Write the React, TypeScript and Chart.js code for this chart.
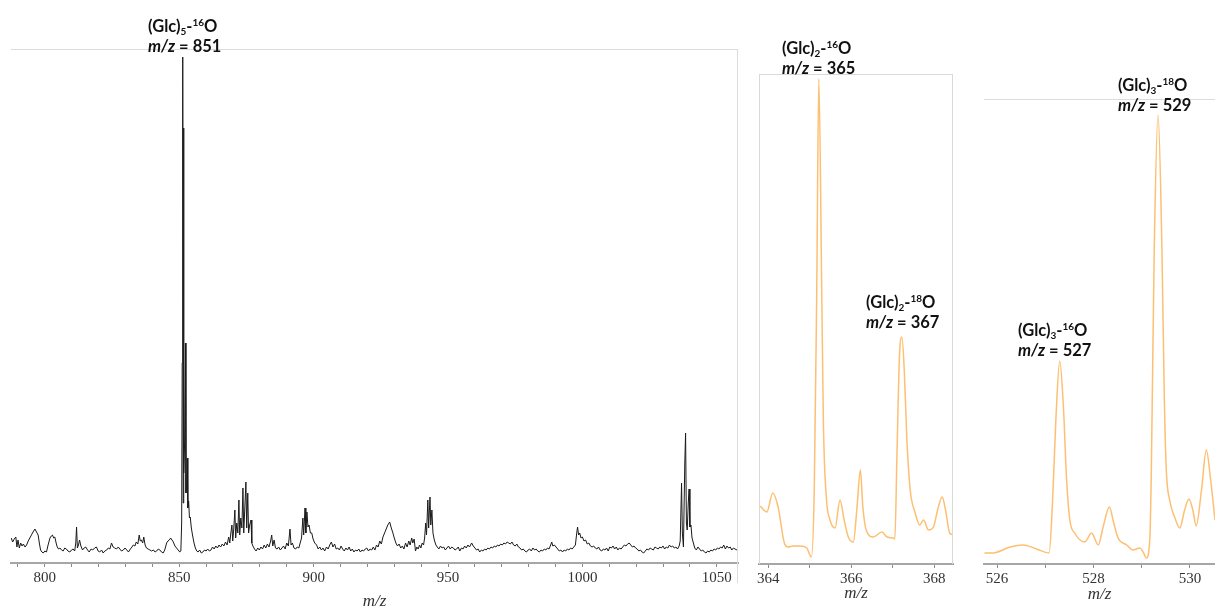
import React, { useEffect, useRef } from 'react';
import { Chart, registerables } from 'chart.js';

Chart.register(...registerables);

// ---------- DATA ----------
// Left panel: MS spectrum, m/z vs intensity (arbitrary units)
const leftSpectrum: [number, number][] = [
  [787.5, 25], [788.0, 21], [788.6, 24], [789.2, 26], [789.6, 16], [790.0, 23], [790.5, 15], [791.0, 20], [791.5, 17], [792.0, 19],
  [792.6, 16], [793.2, 18], [793.8, 22], [794.4, 25], [795.0, 28], [795.6, 31], [796.3, 34], [796.9, 31], [797.5, 28], [798.0, 19],
  [798.4, 13], [798.9, 11], [799.4, 10], [800.0, 12], [800.6, 11], [801.2, 18], [801.9, 25], [802.4, 27], [802.8, 28], [803.3, 25],
  [803.7, 26], [804.2, 20], [804.6, 16], [805.1, 14], [805.6, 15], [806.2, 13], [806.8, 12], [807.4, 15], [808.0, 14], [808.6, 12],
  [809.3, 11], [809.9, 13], [810.5, 14], [811.1, 12], [811.5, 20], [811.8, 36], [812.1, 15], [812.5, 18], [812.9, 23], [813.4, 17],
  [814.0, 13], [814.6, 15], [815.2, 16], [815.9, 13], [816.5, 11], [817.2, 14], [817.8, 13], [818.5, 15], [819.2, 16], [819.8, 12],
  [820.4, 11], [821.1, 13], [821.7, 10], [822.3, 12], [823.0, 13], [823.6, 15], [824.2, 14], [824.8, 20], [825.4, 16], [826.0, 15],
  [826.7, 14], [827.3, 16], [827.9, 14], [828.5, 12], [829.2, 13], [829.8, 15], [830.5, 13], [831.1, 11], [831.8, 14], [832.4, 16],
  [832.9, 18], [833.5, 17], [834.0, 21], [834.6, 19], [835.1, 28], [835.5, 22], [835.9, 23], [836.4, 20], [836.8, 26], [837.3, 18],
  [837.8, 15], [838.4, 14], [839.1, 13], [839.7, 12], [840.4, 13], [841.0, 11], [841.6, 12], [842.2, 14], [842.8, 13], [843.4, 11],
  [844.0, 10], [844.6, 13], [845.3, 20], [845.8, 22], [846.3, 23], [846.8, 25], [847.3, 23], [847.8, 21], [848.4, 17], [849.0, 15],
  [849.6, 13], [850.2, 11], [850.6, 12], [850.9, 40], [851.1, 200], [851.3, 506], [851.45, 60], [851.6, 435], [851.75, 90], [852.0, 120],
  [852.3, 220], [852.5, 70], [852.8, 80], [853.0, 105], [853.2, 55], [853.5, 62], [853.8, 45], [854.1, 46], [854.5, 35], [855.0, 27],
  [855.5, 20], [856.0, 15], [856.5, 12], [857.0, 11], [857.6, 13], [858.2, 10], [858.8, 11], [859.4, 13], [860.0, 12], [860.6, 14],
  [861.2, 12], [861.8, 13], [862.4, 16], [863.0, 14], [863.6, 17], [864.2, 15], [864.8, 18], [865.4, 16], [866.0, 19], [866.6, 17],
  [867.2, 21], [867.8, 18], [868.4, 26], [868.8, 20], [869.2, 30], [869.6, 38], [869.9, 22], [870.3, 35], [870.7, 53], [871.0, 25],
  [871.4, 40], [871.8, 30], [872.2, 63], [872.5, 28], [872.9, 45], [873.3, 35], [873.7, 75], [874.0, 30], [874.4, 55], [874.8, 81],
  [875.1, 35], [875.5, 70], [875.8, 30], [876.2, 38], [876.7, 43], [877.0, 20], [877.4, 17], [878.0, 14], [878.6, 12], [879.2, 15],
  [879.8, 13], [880.4, 16], [881.0, 14], [881.6, 18], [882.2, 15], [882.8, 19], [883.4, 16], [884.0, 22], [884.4, 28], [884.8, 17],
  [885.3, 23], [885.8, 15], [886.4, 14], [887.0, 16], [887.6, 13], [888.2, 15], [888.8, 17], [889.4, 14], [890.0, 20], [890.6, 17],
  [891.2, 34], [891.6, 18], [892.1, 20], [892.7, 15], [893.3, 14], [893.9, 16], [894.5, 15], [895.0, 20], [895.5, 25], [896.0, 45],
  [896.3, 28], [896.8, 55], [897.1, 30], [897.5, 51], [897.9, 36], [898.3, 38], [898.8, 30], [899.3, 30], [899.8, 24], [900.4, 20],
  [901.1, 18], [901.7, 14], [902.3, 16], [902.9, 13], [903.5, 15], [904.1, 12], [904.8, 16], [905.4, 14], [906.0, 18], [906.6, 21],
  [907.2, 16], [907.8, 19], [908.4, 14], [909.0, 15], [909.6, 13], [910.2, 17], [910.8, 14], [911.4, 12], [912.0, 15], [912.6, 13],
  [913.2, 16], [913.8, 12], [914.4, 14], [915.0, 11], [915.6, 13], [916.2, 12], [916.8, 14], [917.4, 11], [918.0, 13], [918.6, 12],
  [919.2, 14], [919.8, 15], [920.4, 12], [921.0, 14], [921.6, 13], [922.2, 16], [922.8, 13], [923.4, 18], [924.0, 16], [924.6, 22],
  [925.2, 19], [925.8, 26], [926.4, 30], [927.0, 34], [927.6, 38], [928.3, 41], [928.9, 35], [929.5, 30], [930.0, 25], [930.6, 20],
  [931.2, 17], [931.8, 19], [932.4, 15], [933.0, 17], [933.6, 14], [934.2, 20], [934.8, 16], [935.4, 22], [935.9, 18], [936.5, 25],
  [936.9, 20], [937.4, 24], [937.9, 12], [938.4, 16], [938.9, 14], [939.4, 18], [939.9, 15], [940.4, 20], [940.9, 18], [941.3, 25],
  [941.7, 40], [942.0, 28], [942.5, 63], [942.8, 35], [943.3, 66], [943.6, 38], [944.0, 53], [944.4, 30], [944.9, 23], [945.5, 18],
  [946.0, 16], [946.6, 14], [947.2, 17], [947.8, 15], [948.4, 16], [949.0, 13], [949.6, 15], [950.2, 17], [950.8, 14], [951.4, 16],
  [952.0, 15], [952.6, 13], [953.2, 14], [953.8, 16], [954.4, 12], [955.0, 15], [955.6, 14], [956.2, 17], [956.8, 15], [957.4, 18],
  [958.0, 16], [958.8, 20], [959.4, 17], [960.0, 15], [960.6, 13], [961.2, 14], [961.8, 11], [962.4, 13], [963.0, 12], [963.6, 14],
  [964.2, 13], [964.8, 15], [965.4, 14], [966.0, 16], [966.6, 15], [967.2, 17], [967.8, 16], [968.4, 18], [969.0, 17], [969.6, 19],
  [970.2, 18], [970.8, 20], [971.4, 19], [972.0, 21], [972.6, 20], [973.2, 19], [973.8, 21], [974.4, 18], [975.0, 17], [975.6, 19],
  [976.2, 16], [976.8, 15], [977.4, 13], [978.0, 14], [978.6, 12], [979.2, 11], [979.8, 13], [980.4, 14], [981.0, 12], [981.6, 15],
  [982.2, 13], [982.8, 14], [983.4, 12], [984.0, 11], [984.6, 13], [985.2, 12], [985.8, 14], [986.4, 13], [987.0, 15], [987.6, 14],
  [988.2, 18], [988.6, 21], [989.0, 17], [989.6, 18], [990.2, 16], [990.8, 14], [991.4, 12], [992.0, 13], [992.6, 11], [993.2, 13],
  [993.8, 12], [994.4, 14], [995.0, 13], [995.6, 15], [996.2, 14], [996.8, 16], [997.4, 18], [997.9, 30], [998.2, 36], [998.6, 28],
  [999.0, 30], [999.5, 25], [1000.0, 26], [1000.6, 22], [1001.2, 23], [1001.8, 19], [1002.4, 20], [1003.0, 17], [1003.6, 16], [1004.2, 17],
  [1004.8, 15], [1005.4, 14], [1006.0, 16], [1006.6, 13], [1007.2, 12], [1007.8, 14], [1008.4, 13], [1009.0, 15], [1009.6, 12], [1010.2, 16],
  [1010.8, 15], [1011.4, 17], [1012.0, 14], [1012.6, 16], [1013.2, 13], [1013.8, 15], [1014.4, 14], [1015.0, 16], [1015.6, 18], [1016.2, 17],
  [1016.8, 19], [1017.4, 20], [1018.0, 18], [1018.6, 16], [1019.2, 17], [1019.8, 15], [1020.4, 14], [1021.0, 12], [1021.6, 13], [1022.2, 11],
  [1022.8, 10], [1023.4, 12], [1024.0, 14], [1024.6, 13], [1025.2, 15], [1025.8, 14], [1026.4, 13], [1027.0, 16], [1027.6, 15], [1028.2, 14],
  [1028.8, 16], [1029.4, 15], [1030.0, 17], [1030.6, 14], [1031.2, 16], [1031.8, 15], [1032.4, 18], [1033.0, 16], [1033.6, 17], [1034.2, 15],
  [1034.8, 16], [1035.4, 14], [1036.0, 17], [1036.4, 22], [1036.9, 80], [1037.2, 30], [1037.6, 16], [1038.1, 100], [1038.4, 130], [1038.7, 40],
  [1039.0, 33], [1039.4, 60], [1039.7, 74], [1040.0, 36], [1040.4, 38], [1040.8, 25], [1041.3, 20], [1041.8, 15], [1042.4, 13], [1043.0, 16],
  [1043.6, 14], [1044.2, 12], [1044.8, 13], [1045.4, 11], [1046.0, 10], [1046.6, 12], [1047.2, 11], [1047.8, 13], [1048.4, 12], [1049.0, 14],
  [1049.6, 13], [1050.2, 15], [1050.8, 14], [1051.4, 16], [1052.0, 15], [1052.6, 18], [1053.2, 14], [1053.8, 17], [1054.4, 15], [1055.0, 16],
  [1055.6, 13], [1056.2, 15], [1056.8, 14], [1057.4, 13], [1057.9, 15],
];

// Middle panel: zoom around m/z 364-368
const middleSpectrum: [number, number][] = [
  [363.81, 58], [363.97, 52], [364.11, 71], [364.24, 57], [364.39, 21], [364.48, 17], [364.60, 18], [364.77, 18], [364.93, 16], [365.04, 7],
  [365.11, 74], [365.17, 274], [365.22, 485], [365.29, 274], [365.33, 141], [365.40, 67], [365.49, 44], [365.61, 36], [365.73, 64], [365.83, 44],
  [365.93, 27], [366.05, 22], [366.14, 57], [366.22, 94], [366.28, 57], [366.36, 34], [366.53, 27], [366.74, 32], [366.86, 27], [367.01, 26],
  [367.05, 25], [367.10, 107], [367.16, 207], [367.22, 227], [367.28, 191], [367.34, 124], [367.42, 74], [367.54, 51], [367.65, 39], [367.74, 44],
  [367.86, 34], [367.98, 37], [368.08, 54], [368.19, 67], [368.27, 54], [368.37, 31], [368.47, 29],
];

// Right panel: zoom around m/z 526-530
const rightSpectrum: [number, number][] = [
  [525.74, 11], [525.92, 11], [526.27, 17], [526.54, 19], [526.82, 15], [527.08, 11], [527.15, 61], [527.22, 144], [527.30, 203], [527.38, 154],
  [527.44, 87], [527.51, 44], [527.61, 31], [527.82, 22], [527.96, 31], [528.10, 19], [528.20, 37], [528.33, 57], [528.42, 41], [528.51, 26],
  [528.69, 19], [528.82, 14], [528.96, 16], [529.03, 12], [529.10, 6], [529.17, 27], [529.20, 94], [529.26, 314], [529.34, 449], [529.42, 314],
  [529.47, 164], [529.51, 94], [529.58, 64], [529.69, 46], [529.79, 36], [529.89, 54], [529.98, 65], [530.06, 54], [530.13, 38], [530.24, 74],
  [530.34, 114], [530.43, 84], [530.52, 44],
];

const leftTicks = [790, 800, 810, 820, 830, 840, 850, 860, 870, 880, 890, 900, 910, 920, 930, 940, 950, 960, 970, 980, 990, 1000, 1010, 1020, 1030, 1040, 1050];
const leftLabels = [800, 850, 900, 950, 1000, 1050];
const middleTicks = [364, 365, 366, 367, 368];
const middleLabels = [364, 366, 368];
const rightTicks = [526, 527, 528, 529, 530];
const rightLabels = [526, 528, 530];

// ---------- CHART HELPERS ----------
const framePlugin = {
  id: 'frame',
  afterDraw(chart: any, _args: any, opts: any) {
    const { ctx, chartArea: a } = chart;
    ctx.save();
    ctx.strokeStyle = opts.color || '#dcdcdc';
    ctx.lineWidth = 1;
    ctx.beginPath();
    if (opts.top) {
      ctx.moveTo(a.left, Math.round(a.top) + 0.5);
      ctx.lineTo(a.right, Math.round(a.top) + 0.5);
    }
    if (opts.left) {
      ctx.moveTo(Math.round(a.left) + 0.5, a.top);
      ctx.lineTo(Math.round(a.left) + 0.5, a.bottom);
    }
    if (opts.right) {
      ctx.moveTo(Math.round(a.right) - 0.5, a.top);
      ctx.lineTo(Math.round(a.right) - 0.5, a.bottom + (opts.rightExtend || 0));
    }
    ctx.stroke();
    ctx.restore();
  },
};

type PanelSpec = {
  data: [number, number][];
  color: string;
  width: number;
  smooth: boolean;
  xMin: number;
  xMax: number;
  yMax: number;
  ticks: number[];
  labels: number[];
  padding: { left: number; right: number; top: number };
  axisHeight: number;
  titlePad: number;
  frame: any;
};

function buildConfig(p: PanelSpec): any {
  return {
    type: 'line',
    data: {
      datasets: [
        {
          data: p.data.map(([x, y]) => ({ x, y })),
          borderColor: p.color,
          borderWidth: p.width,
          pointRadius: 0,
          fill: false,
          tension: 0,
          cubicInterpolationMode: p.smooth ? 'monotone' : 'default',
        },
      ],
    },
    options: {
      animation: false,
      responsive: false,
      maintainAspectRatio: false,
      layout: { padding: { left: p.padding.left, right: p.padding.right, top: p.padding.top, bottom: 0 } },
      plugins: {
        legend: { display: false },
        tooltip: { enabled: false },
        frame: p.frame,
      },
      scales: {
        x: {
          type: 'linear',
          min: p.xMin,
          max: p.xMax,
          afterBuildTicks: (scale: any) => {
            scale.ticks = p.ticks.map((v) => ({ value: v }));
          },
          afterFit: (scale: any) => {
            scale.height = p.axisHeight;
          },
          grid: {
            drawOnChartArea: false,
            drawTicks: true,
            tickLength: 4,
            color: '#8a8a8a',
            lineWidth: 1,
          },
          border: { display: true, color: '#a6a6a6', width: 2 },
          ticks: {
            autoSkip: false,
            maxRotation: 0,
            padding: 2,
            color: '#333',
            font: { family: '"Liberation Serif", "Times New Roman", serif', size: 15 },
            callback: (v: any) => (p.labels.includes(Number(v)) ? String(v) : ''),
          },
          title: {
            display: true,
            text: 'm/z',
            color: '#333',
            padding: { top: 0, bottom: p.titlePad },
            font: { family: '"Liberation Serif", "Times New Roman", serif', size: 17, style: 'italic' },
          },
        },
        y: {
          display: false,
          min: 0,
          max: p.yMax,
        },
      },
    },
    plugins: [framePlugin],
  };
}

function Panel(props: { spec: PanelSpec; left: number; width: number; height: number }) {
  const ref = useRef<HTMLCanvasElement | null>(null);
  useEffect(() => {
    if (!ref.current) return;
    const chart = new Chart(ref.current, buildConfig(props.spec));
    return () => chart.destroy();
  }, []);
  return (
    <canvas
      ref={ref}
      width={props.width}
      height={props.height}
      style={{ position: 'absolute', left: props.left, top: 0, width: props.width, height: props.height }}
    />
  );
}

const labelFont = 'Lato, "Open Sans", sans-serif';

function PeakLabel(props: { left: number; top: number; n: string; iso: string; mz: string }) {
  return (
    <div
      style={{
        position: 'absolute',
        left: props.left,
        top: props.top,
        fontFamily: labelFont,
        fontWeight: 700,
        fontSize: 16.5,
        lineHeight: '20px',
        color: '#111',
        whiteSpace: 'nowrap',
      }}
    >
      <div>
        (Glc)
        <span style={{ fontSize: 10, verticalAlign: -3, lineHeight: 0 }}>{props.n}</span>-
        <span style={{ fontSize: 10, verticalAlign: 6, lineHeight: 0 }}>{props.iso}</span>O
      </div>
      <div>
        <i>m/z</i> = {props.mz}
      </div>
    </div>
  );
}

export default function App() {
  const leftSpec: PanelSpec = {
    data: leftSpectrum,
    color: '#1a1a1a',
    width: 1,
    smooth: false,
    xMin: 787.4,
    xMax: 1057.9,
    yMax: 514,
    ticks: leftTicks,
    labels: leftLabels,
    padding: { left: 11, right: 10, top: 49 },
    axisHeight: 57,
    titlePad: 8,
    frame: { top: true, right: true, rightExtend: 20, color: '#dcdcdc' },
  };
  const middleSpec: PanelSpec = {
    data: middleSpectrum,
    color: '#FDBF72',
    width: 1.5,
    smooth: true,
    xMin: 363.78,
    xMax: 368.45,
    yMax: 490,
    ticks: middleTicks,
    labels: middleLabels,
    padding: { left: 14, right: 12, top: 74 },
    axisHeight: 56,
    titlePad: 16,
    frame: { top: true, left: true, right: true, color: '#d9d9d9' },
  };
  const rightSpec: PanelSpec = {
    data: rightSpectrum,
    color: '#FDBF72',
    width: 1.5,
    smooth: true,
    xMin: 525.73,
    xMax: 530.52,
    yMax: 465,
    ticks: rightTicks,
    labels: rightLabels,
    padding: { left: 14, right: 0, top: 99 },
    axisHeight: 56,
    titlePad: 15,
    frame: { top: true, color: '#dcdcdc' },
  };

  return (
    <div style={{ position: 'fixed', left: 0, top: 0, width: 1215, height: 610, background: '#fff', overflow: 'hidden' }}>
      <Panel spec={leftSpec} left={0} width={748} height={620} />
      <Panel spec={middleSpec} left={745} width={220} height={620} />
      <Panel spec={rightSpec} left={970} width={245} height={620} />
      <PeakLabel left={148} top={16} n="5" iso="16" mz="851" />
      <PeakLabel left={782} top={38} n="2" iso="16" mz="365" />
      <PeakLabel left={866} top={292} n="2" iso="18" mz="367" />
      <PeakLabel left={1018} top={320} n="3" iso="16" mz="527" />
      <PeakLabel left={1118} top={75} n="3" iso="18" mz="529" />
    </div>
  );
}
